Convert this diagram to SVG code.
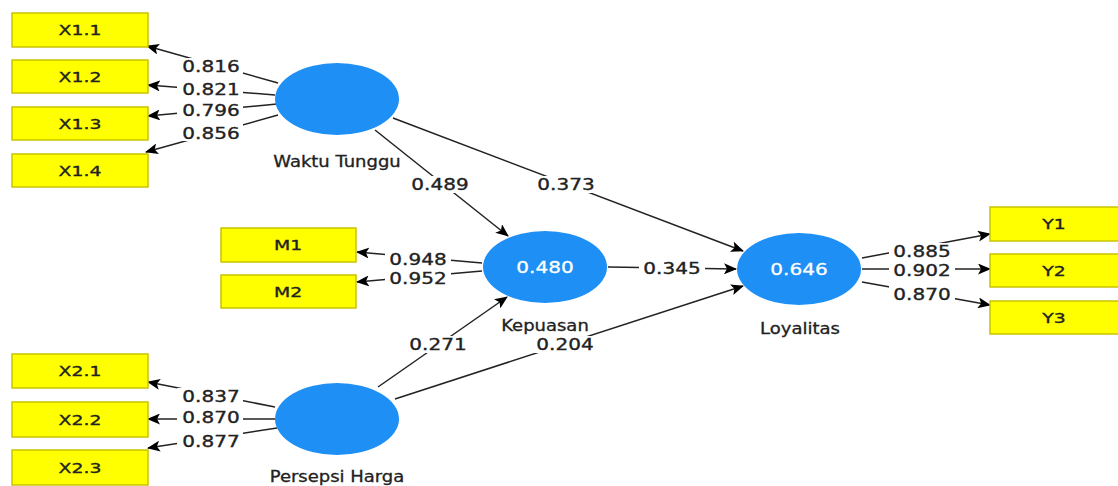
<svg xmlns="http://www.w3.org/2000/svg" width="1118" height="486" viewBox="0 0 1118 486">
<defs>
<marker id="ah" markerWidth="13" markerHeight="11" refX="12" refY="5.5" orient="auto" markerUnits="userSpaceOnUse">
<path d="M0,0 L13,5.5 L0,11 L3,5.5 Z" fill="#000"/>
</marker>
<style>
.box{fill:#ffff00;stroke:#c9c400;stroke-width:1.5}
.lv{fill:#1e8ff5}
.bt{font-family:"DejaVu Sans",sans-serif;font-size:14.5px;text-anchor:middle;fill:#222;stroke:#222;stroke-width:0.35}
.num{font-family:"DejaVu Sans",sans-serif;font-size:16px;text-anchor:middle;fill:#222;stroke:#222;stroke-width:0.35}
.nm{font-family:"DejaVu Sans",sans-serif;font-size:15px;text-anchor:middle;fill:#222;stroke:#222;stroke-width:0.3}
.in{font-family:"DejaVu Sans",sans-serif;font-size:16px;text-anchor:middle;fill:#fff;stroke:#fff;stroke-width:0.3}
.ln{stroke:#222;stroke-width:1.5;fill:none;marker-end:url(#ah)}
.bg{fill:#fff}
</style>
</defs>
<rect width="1118" height="486" fill="#fff"/>
<g id="connectors">
<line class="ln" x1="278" y1="83" x2="147" y2="46"/>
<line class="ln" x1="275" y1="95" x2="148" y2="85"/>
<line class="ln" x1="277" y1="104" x2="148" y2="116"/>
<line class="ln" x1="278" y1="115" x2="146" y2="152"/>
<line class="ln" x1="275" y1="407" x2="148" y2="382"/>
<line class="ln" x1="275" y1="419" x2="148" y2="419"/>
<line class="ln" x1="277" y1="428" x2="148" y2="448"/>
<line class="ln" x1="482" y1="263" x2="357" y2="252"/>
<line class="ln" x1="482" y1="271" x2="357" y2="282"/>
<line class="ln" x1="862" y1="258" x2="990" y2="234"/>
<line class="ln" x1="862" y1="269" x2="990" y2="269"/>
<line class="ln" x1="862" y1="282" x2="990" y2="305"/>
<line class="ln" x1="375" y1="130" x2="508" y2="236"/>
<line class="ln" x1="393" y1="118" x2="743" y2="251"/>
<line class="ln" x1="608" y1="267" x2="736" y2="269"/>
<line class="ln" x1="378" y1="387" x2="507" y2="297"/>
<line class="ln" x1="395" y1="399" x2="743" y2="286"/>
<rect class="bg" x="177" y="58" width="66" height="17"/>
<rect class="bg" x="177" y="81" width="66" height="17"/>
<rect class="bg" x="177" y="102" width="66" height="17"/>
<rect class="bg" x="177" y="124" width="66" height="17"/>
<rect class="bg" x="177" y="388" width="66" height="17"/>
<rect class="bg" x="177" y="409" width="66" height="17"/>
<rect class="bg" x="177" y="432" width="66" height="17"/>
<rect class="bg" x="385" y="250" width="66" height="17"/>
<rect class="bg" x="385" y="270" width="66" height="17"/>
<rect class="bg" x="889" y="243" width="66" height="17"/>
<rect class="bg" x="889" y="262" width="66" height="17"/>
<rect class="bg" x="889" y="286" width="66" height="17"/>
<rect class="bg" x="407" y="176" width="66" height="17"/>
<rect class="bg" x="533" y="176" width="66" height="17"/>
<rect class="bg" x="639" y="260" width="66" height="17"/>
<rect class="bg" x="405" y="336" width="66" height="17"/>
<rect class="bg" x="532" y="336" width="66" height="17"/>
<text class="num" transform="translate(211,72) scale(1.25,1)">0.816</text>
<text class="num" transform="translate(211,95) scale(1.25,1)">0.821</text>
<text class="num" transform="translate(211,116) scale(1.25,1)">0.796</text>
<text class="num" transform="translate(211,139) scale(1.25,1)">0.856</text>
<text class="num" transform="translate(211,402) scale(1.25,1)">0.837</text>
<text class="num" transform="translate(211,423) scale(1.25,1)">0.870</text>
<text class="num" transform="translate(211,447) scale(1.25,1)">0.877</text>
<text class="num" transform="translate(418,265) scale(1.25,1)">0.948</text>
<text class="num" transform="translate(418,284) scale(1.25,1)">0.952</text>
<text class="num" transform="translate(922,257) scale(1.25,1)">0.885</text>
<text class="num" transform="translate(922,276) scale(1.25,1)">0.902</text>
<text class="num" transform="translate(922,300) scale(1.25,1)">0.870</text>
<text class="num" transform="translate(440,190) scale(1.25,1)">0.489</text>
<text class="num" transform="translate(566,190) scale(1.25,1)">0.373</text>
<text class="num" transform="translate(672,274) scale(1.25,1)">0.345</text>
<text class="num" transform="translate(438,350) scale(1.25,1)">0.271</text>
<text class="num" transform="translate(565,350) scale(1.25,1)">0.204</text>
</g>
<g id="X1.1"><rect class="box" x="12" y="13" width="136" height="34"/><text class="bt" transform="translate(80,35) scale(1.3,1)">X1.1</text></g>
<g id="X1.2"><rect class="box" x="12" y="60" width="136" height="33"/><text class="bt" transform="translate(80,82) scale(1.3,1)">X1.2</text></g>
<g id="X1.3"><rect class="box" x="12" y="107" width="136" height="33"/><text class="bt" transform="translate(80,129) scale(1.3,1)">X1.3</text></g>
<g id="X1.4"><rect class="box" x="12" y="154" width="136" height="33"/><text class="bt" transform="translate(80,176) scale(1.3,1)">X1.4</text></g>
<g id="X2.1"><rect class="box" x="12" y="354" width="136" height="34"/><text class="bt" transform="translate(80,376) scale(1.3,1)">X2.1</text></g>
<g id="X2.2"><rect class="box" x="12" y="402" width="136" height="35"/><text class="bt" transform="translate(80,425) scale(1.3,1)">X2.2</text></g>
<g id="X2.3"><rect class="box" x="12" y="450" width="136" height="35"/><text class="bt" transform="translate(80,473) scale(1.3,1)">X2.3</text></g>
<g id="M1"><rect class="box" x="221" y="228" width="135" height="34"/><text class="bt" transform="translate(288,250) scale(1.3,1)">M1</text></g>
<g id="M2"><rect class="box" x="221" y="275" width="135" height="33"/><text class="bt" transform="translate(288,297) scale(1.3,1)">M2</text></g>
<g id="Y1"><rect class="box" x="990" y="207" width="130" height="34"/><text class="bt" transform="translate(1054,229) scale(1.3,1)">Y1</text></g>
<g id="Y2"><rect class="box" x="990" y="254" width="130" height="33"/><text class="bt" transform="translate(1054,276) scale(1.3,1)">Y2</text></g>
<g id="Y3"><rect class="box" x="990" y="301" width="130" height="33"/><text class="bt" transform="translate(1054,323) scale(1.3,1)">Y3</text></g>
<g id="WaktuTunggu"><ellipse class="lv" cx="337" cy="99" rx="62" ry="36"/><text class="nm" transform="translate(337,167) scale(1.2,1)">Waktu Tunggu</text></g>
<g id="PersepsiHarga"><ellipse class="lv" cx="337" cy="419" rx="62" ry="36"/><text class="nm" transform="translate(337,482) scale(1.2,1)">Persepsi Harga</text></g>
<g id="Kepuasan"><ellipse class="lv" cx="545" cy="267" rx="62" ry="36"/><text class="in" transform="translate(545,273) scale(1.25,1)">0.480</text><text class="nm" transform="translate(545,331) scale(1.2,1)">Kepuasan</text></g>
<g id="Loyalitas"><ellipse class="lv" cx="799" cy="269" rx="62" ry="36"/><text class="in" transform="translate(799,275) scale(1.25,1)">0.646</text><text class="nm" transform="translate(800,334) scale(1.2,1)">Loyalitas</text></g>
</svg>
